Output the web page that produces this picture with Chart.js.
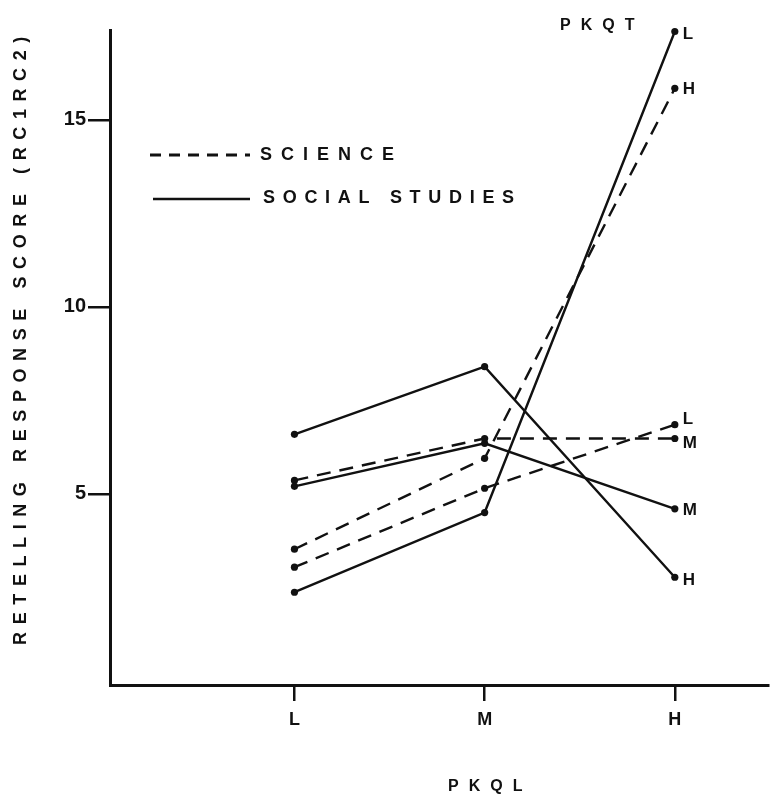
<!DOCTYPE html>
<html>
<head>
<meta charset="utf-8">
<title>Retelling response score by PKQL</title>
<script src="https://cdn.jsdelivr.net/npm/chart.js@4.4.1/dist/chart.umd.min.js"></script>
<style>
    html, body { margin: 0; padding: 0; background: #fff; }
    canvas { display: block; }
</style>
</head>
<body>
<canvas id="chart" width="772" height="798"></canvas>
<script>
// ---- data ----
const xValues = [1, 2, 3];
const xTickLabels = ['L', 'M', 'H'];
const yTickValues = [5, 10, 15];

// science (dashed), one line per PKQT level
const scienceL = [3.04, 5.15, 6.85];
const scienceM = [5.36, 6.48, 6.48];
const scienceH = [3.52, 5.95, 15.84];

// social studies (solid)
const socialL = [2.37, 4.5, 17.36];
const socialM = [5.2, 6.35, 4.6];
const socialH = [6.59, 8.4, 2.77];

const legendLabels = ['SCIENCE', 'SOCIAL STUDIES'];
const xTitle = 'PKQL';
const yTitle = 'RETELLING RESPONSE SCORE (RC1RC2)';
const seriesTitle = 'PKQT';

const INK = '#111';
const FONT = '"Liberation Sans", Arial, Helvetica, sans-serif';

function toPoints(values) {
    return xValues.map((x, i) => ({ x: x, y: values[i] }));
}

function makeLine(label, values, dashed, endLabel, labelDy) {
    return {
        label: label,
        data: toPoints(values),
        borderColor: INK,
        backgroundColor: INK,
        borderWidth: 2.4,
        borderDash: dashed ? [14, 9] : [],
        pointRadius: 3.6,
        pointBorderWidth: 0,
        pointBackgroundColor: INK,
        tension: 0,
        clip: false,
        endLabel: endLabel,
        endLabelDy: labelDy
    };
}

const datasets = [
    makeLine('Science PKQT L', scienceL, true, 'L', -5),
    makeLine('Science PKQT M', scienceM, true, 'M', 5),
    makeLine('Science PKQT H', scienceH, true, 'H', 1),
    makeLine('Social Studies PKQT L', socialL, false, 'L', 3),
    makeLine('Social Studies PKQT M', socialM, false, 'M', 2),
    makeLine('Social Studies PKQT H', socialH, false, 'H', 3)
];

// draw letter-spaced text the way the typewritten figure has it
function spacedText(ctx, text, x, y, size, spacing, align) {
    ctx.save();
    ctx.font = 'bold ' + size + 'px ' + FONT;
    ctx.fillStyle = INK;
    ctx.letterSpacing = spacing + 'px';
    ctx.textBaseline = 'middle';
    ctx.textAlign = align || 'left';
    ctx.fillText(text, x, y);
    ctx.restore();
}

const annotations = {
    id: 'annotations',
    afterDatasetsDraw(chart) {
        const ctx = chart.ctx;

        // labels at the right end of each line
        chart.data.datasets.forEach((ds, i) => {
            const meta = chart.getDatasetMeta(i);
            const last = meta.data[meta.data.length - 1];
            spacedText(ctx, ds.endLabel, last.x + 8, last.y + ds.endLabelDy, 17, 0);
        });

        // legend inside the plot
        ctx.save();
        ctx.strokeStyle = INK;
        ctx.lineWidth = 3;
        ctx.setLineDash([11, 8]);
        ctx.beginPath();
        ctx.moveTo(150, 155);
        ctx.lineTo(250, 155);
        ctx.stroke();
        ctx.setLineDash([]);
        ctx.lineWidth = 2.4;
        ctx.beginPath();
        ctx.moveTo(153, 199);
        ctx.lineTo(250, 199);
        ctx.stroke();
        ctx.restore();
        spacedText(ctx, legendLabels[0], 260, 155, 18, 9);
        spacedText(ctx, legendLabels[1], 263, 198, 18, 7.7);

        // series heading and axis titles
        spacedText(ctx, seriesTitle, 560, 26, 16, 10);
        spacedText(ctx, xTitle, 448, 787, 16, 10);

        ctx.save();
        ctx.translate(21, 337);
        ctx.rotate(-Math.PI / 2);
        spacedText(ctx, yTitle, 0, 0, 18, 7.6, 'center');
        ctx.restore();
    }
};

new Chart(document.getElementById('chart'), {
    type: 'line',
    data: { datasets: datasets },
    options: {
        responsive: false,
        animation: false,
        devicePixelRatio: 1,
        layout: { padding: { left: 0, right: 2, top: 30, bottom: 0 } },
        plugins: {
            legend: { display: false },
            tooltip: { enabled: false }
        },
        scales: {
            x: {
                type: 'linear',
                min: 0.03,
                max: 3.49,
                afterBuildTicks: scale => {
                    scale.ticks = xValues.map(v => ({ value: v }));
                },
                afterFit: scale => { scale.height = 113; },
                ticks: {
                    color: INK,
                    padding: 8,
                    font: { family: FONT, size: 18, weight: 'bold' },
                    callback: value => xTickLabels[xValues.indexOf(value)]
                },
                grid: {
                    drawOnChartArea: false,
                    drawTicks: true,
                    tickLength: 16,
                    color: INK,
                    lineWidth: 2.5
                },
                border: { display: true, color: INK, width: 3 }
            },
            y: {
                type: 'linear',
                min: -0.11,
                max: 17.4,
                afterBuildTicks: scale => {
                    scale.ticks = yTickValues.map(v => ({ value: v }));
                },
                afterFit: scale => { scale.width = 110; },
                ticks: {
                    color: INK,
                    padding: 2,
                    font: { family: FONT, size: 20, weight: 'bold' }
                },
                grid: {
                    drawOnChartArea: false,
                    drawTicks: true,
                    tickLength: 22,
                    color: INK,
                    lineWidth: 2.5
                },
                border: { display: true, color: INK, width: 3 }
            }
        }
    },
    plugins: [annotations]
});
</script>
</body>
</html>
